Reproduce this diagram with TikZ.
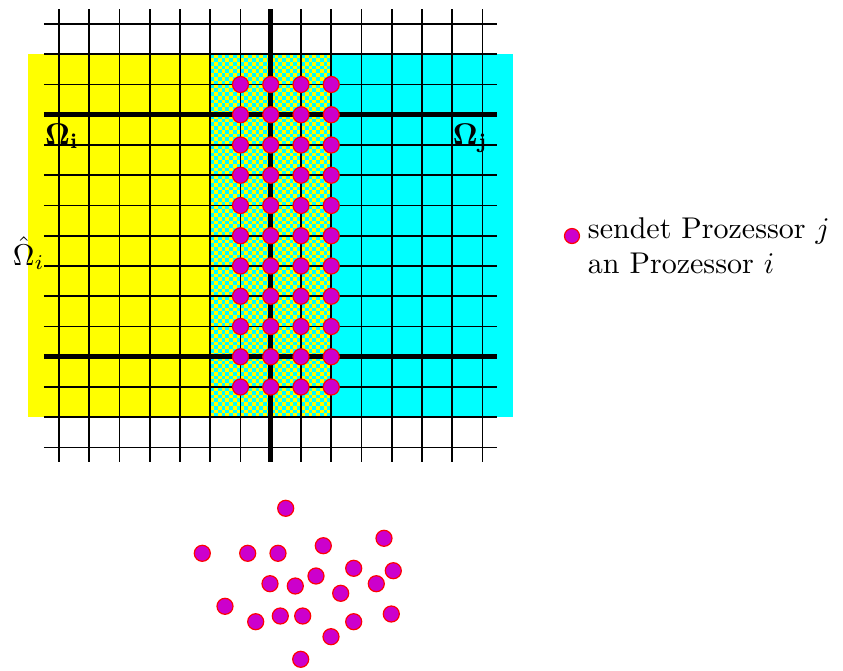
\documentclass[tikz,border=0pt]{standalone}
\usepackage{amsmath}
\definecolor{dotmag}{RGB}{204,0,204}
\definecolor{ylw}{RGB}{255,255,0}
\definecolor{cyn}{RGB}{0,255,255}
\tikzset{
  gridthin/.style={line width=0.6pt, black},
  gridthick/.style={line width=1.7pt, black},
  pdot/.style={fill=dotmag, draw=red, line width=0.4pt},
  lbl/.style={anchor=base west, inner sep=0pt, outer sep=0pt},
}
\begin{document}
\begin{tikzpicture}[x=0.33333pt, y=-0.33333pt]
\useasboundingbox (0,0) rectangle (843,670);
\def\cs{30.25}
% coloured regions
\fill[ylw] (28,54.25) rectangle (210.25,417.25);
\fill[cyn] (331.25,54.25) rectangle (513,417.25);
\fill[ylw] (210.25,54.25) rectangle (331.25,417.25);
% checkerboard
\pgfmathsetmacro\ck{\cs/8}
\foreach \j in {0,...,95}{
  \pgfmathtruncatemacro\off{mod(\j,2)}
  \foreach \i in {0,2,...,30}{
    \fill[cyn] ({210.25+(\i+\off)*\ck},{54.25+\j*\ck}) rectangle ++(\ck,\ck);
  }
}
% grid
\foreach \k in {0,...,14}{
  \draw[gridthin] ({59+\k*\cs},9) -- ({59+\k*\cs},462);
  \draw[gridthin] (44,{24+\k*\cs}) -- (497,{24+\k*\cs});
}
\draw[gridthick] ({59+7*\cs},9) -- ({59+7*\cs},462);
\draw[gridthick] (44,{24+3*\cs}) -- (497,{24+3*\cs});
\draw[gridthick] (44,{24+11*\cs}) -- (497,{24+11*\cs});
% dots in overlap
\foreach \k in {6,7,8,9}{
  \foreach \m in {2,...,12}{
    \filldraw[pdot] ({59+\k*\cs},{24+\m*\cs}) circle[radius=2.67pt];
  }
}
% labels
\node[lbl] (oi) at (45,144) {$\mathbf{\Omega_i}$};
\node[lbl] (oj) at (453,144) {$\mathbf{\Omega_j}$};
\node[lbl] (ohat) at (13,265) {$\hat{\Omega}_i$};
% legend
\filldraw[pdot] (572,236) circle[radius=2.5pt];
\node[lbl] (leg1) at (588,238) {sendet Prozessor $j$};
\node[lbl] (leg2) at (588,273) {an Prozessor $i$};
% scattered dots
\foreach \p in {(285.7,508.3),(202.3,553.3),(247.7,553.3),(278,553.3),(323.3,545.7),(384,538.3),(270,583.7),(295.3,586),(316,576),(353.7,568.3),(393.3,570.7),(376.3,583.7),(340.7,593.3),(225,606.3),(255.7,621.7),(280.3,616),(302.7,616),(353.7,621.7),(391.3,614),(331,636.7),(300.7,659.3)}{
  \filldraw[pdot] \p circle[radius=2.67pt];
}
\end{tikzpicture}
\end{document}
